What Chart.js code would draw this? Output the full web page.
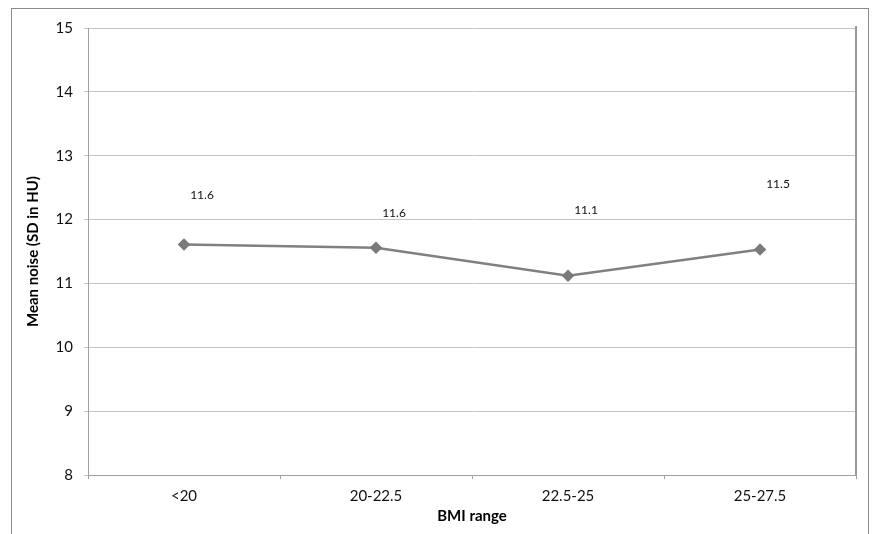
<!DOCTYPE html>
<html>
<head>
<meta charset="utf-8">
<script src="https://cdn.jsdelivr.net/npm/chart.js"></script>
<style>
  html, body { margin: 0; padding: 0; background: #fff; }
  #wrap { position: relative; width: 872px; height: 534px; overflow: hidden; }
  #frame {
    position: absolute; left: 11px; top: 8px; width: 856px; height: 600px;
    border: 1px solid #8a8a8a; pointer-events: none;
  }
</style>
</head>
<body>
<div id="wrap">
  <canvas id="c" width="872" height="534"></canvas>
  <div id="frame"></div>
</div>
<script>
// data
const bmiRanges = ['<20', '20-22.5', '22.5-25', '25-27.5'];
const meanNoise = [11.61, 11.56, 11.12, 11.53];
const noiseLabels = ['11.6', '11.6', '11.1', '11.5'];
const yTicks = { min: 8, max: 15, step: 1 };

const FONT = "Lato, 'Open Sans', sans-serif";

// labels sit above and to the right of each point, at uneven heights as in the original
const pointLabels = {
  id: 'pointLabels',
  afterDatasetsDraw(chart, args, opts) {
    const { ctx } = chart;
    const meta = chart.getDatasetMeta(0);
    ctx.save();
    ctx.font = '12px ' + FONT;
    ctx.fillStyle = '#111';
    ctx.textAlign = 'center';
    ctx.textBaseline = 'middle';
    meta.data.forEach((pt, i) => {
      ctx.fillText(noiseLabels[i], pt.x + opts.dx, pt.y + opts.lift[i]);
    });
    ctx.restore();
  }
};

// darker right edge of the plot area
const plotEdge = {
  id: 'plotEdge',
  afterDraw(chart) {
    const { ctx, chartArea: a } = chart;
    ctx.save();
    ctx.strokeStyle = '#999';
    ctx.lineWidth = 2;
    ctx.beginPath();
    ctx.moveTo(a.right, a.top - 2);
    ctx.lineTo(a.right, a.bottom);
    ctx.stroke();
    ctx.restore();
  }
};

new Chart(document.getElementById('c'), {
  type: 'line',
  data: {
    labels: bmiRanges,
    datasets: [{
      data: meanNoise,
      borderColor: '#808080',
      backgroundColor: '#808080',
      borderWidth: 2.5,
      pointStyle: 'rectRot',
      pointRadius: 4.5,
      pointBackgroundColor: '#7a7a7a',
      pointBorderColor: '#7a7a7a',
      tension: 0
    }]
  },
  options: {
    responsive: false,
    animation: false,
    layout: { padding: { left: 0, top: 28, right: 16, bottom: 0 } },
    plugins: {
      legend: { display: false },
      tooltip: { enabled: false },
      pointLabels: { dx: 18, lift: [-49, -35, -66, -65] }
    },
    scales: {
      x: {
        offset: true,
        afterFit(s) { s.height = 59; },
        grid: {
          offset: true,
          drawOnChartArea: false,
          drawTicks: true,
          tickLength: 4,
          color: '#a0a0a0'
        },
        border: { color: '#a0a0a0', width: 1 },
        ticks: { color: '#111', font: { family: FONT, size: 15 }, padding: 8, maxRotation: 0 },
        title: {
          display: true, text: 'BMI range', color: '#000',
          font: { family: FONT, size: 15, weight: 'bold' },
          padding: { top: 0, bottom: 9 }
        }
      },
      y: {
        min: yTicks.min, max: yTicks.max,
        afterFit(s) { s.width = 88; },
        grid: { color: '#c4c4c4', lineWidth: 1, drawTicks: true, tickLength: 4 },
        border: { color: '#a0a0a0', width: 1 },
        ticks: { stepSize: yTicks.step, color: '#111', font: { family: FONT, size: 15 }, padding: 11 },
        title: {
          display: true, text: 'Mean noise (SD in HU)', color: '#000',
          font: { family: FONT, size: 15, weight: 'bold' },
          padding: { top: 24, bottom: 0 }
        }
      }
    }
  },
  plugins: [pointLabels, plotEdge]
});
</script>
</body>
</html>
